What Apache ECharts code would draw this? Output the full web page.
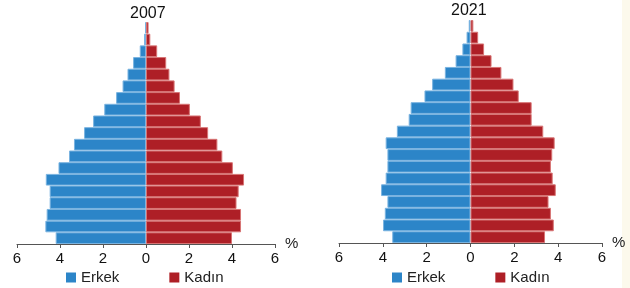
<!DOCTYPE html>
<html>
<head>
<meta charset="utf-8">
<title>Nüfus piramidi 2007 - 2021</title>
<script src="https://cdn.jsdelivr.net/npm/echarts@6/dist/echarts.min.js"></script>
<style>
  html, body { margin: 0; padding: 0; background: #fff; }
  #chart { width: 630px; height: 288px; }
</style>
</head>
<body>
<div id="chart"></div>
<script>
// yas gruplari, alttan uste
var ages = ["0-4", "5-9", "10-14", "15-19", "20-24", "25-29", "30-34", "35-39", "40-44",
  "45-49", "50-54", "55-59", "60-64", "65-69", "70-74", "75-79", "80-84", "85-89", "90+"];

var years = ["2007", "2021"];

// 2007 (%)
var erkek2007 = [4.2, 4.68, 4.62, 4.48, 4.48, 4.66, 4.07, 3.58, 3.35, 2.88, 2.46, 1.94, 1.39, 1.09, 0.86, 0.6, 0.29, 0.09, 0.04];
var kadin2007 = [4.0, 4.42, 4.42, 4.21, 4.31, 4.56, 4.04, 3.55, 3.32, 2.89, 2.55, 2.04, 1.58, 1.33, 1.09, 0.94, 0.52, 0.2, 0.12];

// 2021 (%)
var erkek2021 = [3.57, 3.99, 3.91, 3.79, 4.08, 3.87, 3.79, 3.79, 3.87, 3.36, 2.82, 2.73, 2.1, 1.75, 1.17, 0.68, 0.37, 0.18, 0.08];
var kadin2021 = [3.4, 3.8, 3.67, 3.56, 3.89, 3.75, 3.67, 3.73, 3.84, 3.32, 2.79, 2.79, 2.2, 1.96, 1.41, 0.96, 0.62, 0.35, 0.13];

var xTicks = [-6, -4, -2, 0, 2, 4, 6];

var BLUE = "#2c85c8";
var RED = "#ae1f26";

var chart = echarts.init(document.getElementById("chart"));

var grids = [
  { left: 17, right: 355, top: 22, bottom: 44 },
  { left: 339, right: 28, top: 20, bottom: 45 }
];

function xAxisFor(idx) {
  return {
    type: "value",
    gridIndex: idx,
    min: xTicks[0],
    max: xTicks[xTicks.length - 1],
    interval: 2,
    name: "%",
    nameLocation: "end",
    nameGap: 5,
    nameTextStyle: { color: "#222", fontSize: 15, padding: [0, 0, 4, 0] },
    axisLine: { show: true, lineStyle: { color: "#555", width: 1 } },
    axisTick: { show: true, inside: false, length: 4, lineStyle: { color: "#555" } },
    splitLine: { show: false },
    axisLabel: {
      color: "#111",
      fontSize: 15,
      margin: 7,
      fontFamily: "Liberation Sans, Arial, sans-serif",
      formatter: function (v) { return Math.abs(v); }
    }
  };
}

function yAxisFor(idx) {
  return {
    type: "category",
    gridIndex: idx,
    data: ages,
    show: false
  };
}

function barSeries(name, values, idx, color, border, negative) {
  return {
    name: name,
    type: "bar",
    xAxisIndex: idx,
    yAxisIndex: idx,
    stack: "pyr" + idx,
    barCategoryGap: 0,
    data: values.map(function (v) { return negative ? -v : v; }),
    itemStyle: {
      color: color,
      borderColor: border,
      borderWidth: 1
    },
    emphasis: { disabled: true }
  };
}

var legendBase = {
  icon: "rect",
  itemWidth: 10,
  itemHeight: 10,
  itemGap: 50,
  itemStyle: { borderWidth: 0 },
  textStyle: { color: "#222", fontSize: 15, fontFamily: "Liberation Sans, Arial, sans-serif" },
  data: ["Erkek", "Kadın"]
};

chart.setOption({
  animation: false,
  backgroundColor: "#fff",
  textStyle: { fontFamily: "Liberation Sans, Arial, sans-serif" },
  title: [
    { text: years[0], left: 130, top: 6, padding: 0,
      textStyle: { fontSize: 16, fontWeight: "normal", color: "#111" } },
    { text: years[1], left: 451, top: 3, padding: 0,
      textStyle: { fontSize: 16, fontWeight: "normal", color: "#111" } }
  ],
  legend: [
    Object.assign({ left: 66, top: 270, padding: 0 }, legendBase),
    Object.assign({ left: 392, top: 270, padding: 0 }, legendBase)
  ],
  grid: grids,
  xAxis: [xAxisFor(0), xAxisFor(1)],
  yAxis: [yAxisFor(0), yAxisFor(1)],
  series: [
    barSeries("Erkek", erkek2007, 0, BLUE, "#79b3e0", true),
    barSeries("Kadın", kadin2007, 0, RED, "#d77474", false),
    barSeries("Erkek", erkek2021, 1, BLUE, "#79b3e0", true),
    barSeries("Kadın", kadin2021, 1, RED, "#d77474", false)
  ],
  graphic: [
    // soluk kenar seridi (orijinal goruntude sag kenar)
    { type: "rect", left: 622, top: 0, shape: { width: 8, height: 288 },
      style: { fill: "#fcf9ec" }, silent: true, z: -1 }
  ]
});
</script>
</body>
</html>
